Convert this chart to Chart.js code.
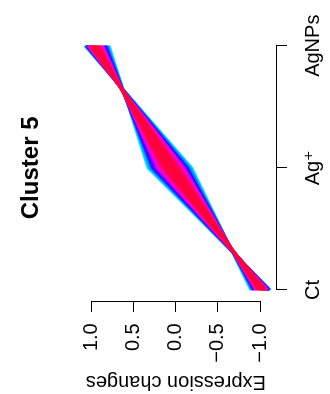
<!DOCTYPE html>
<html>
<head>
<meta charset="utf-8">
<script src="https://cdn.jsdelivr.net/npm/chart.js@4.4.1/dist/chart.umd.min.js"></script>
<style>
  html, body { margin: 0; padding: 0; background: #fff; overflow: hidden; }
  /* chart is drawn upright, then turned a quarter turn to the left */
  #wrap {
    position: absolute; left: 0; top: 0;
    width: 394px; height: 330px;
    transform-origin: 0 0;
    transform: translate(0, 394px) rotate(-90deg);
    background: #fff;
  }
</style>
</head>
<body>
<div id="wrap"><canvas id="cluster-chart" width="394" height="330"></canvas></div>
<script>
// time points
const categories = ['Ct', 'Ag\u207A', 'AgNPs'];

// standardised profile of each gene in the cluster (one entry per gene)
const ctValues   = [-1.123, -1.118, -1.113, -1.107, -1.101, -1.095, -1.088, -1.081, -1.074, -1.067, -1.059, -1.050, -1.042, -1.033,
                    -1.024, -1.015, -1.005, -0.995, -0.985, -0.974, -0.963, -0.952, -0.940, -0.929, -0.917, -0.904, -0.891];
const agValues   = [0.33, 0.31, 0.29, 0.27, 0.25, 0.23, 0.21, 0.19, 0.17, 0.15, 0.13, 0.11, 0.09, 0.07,
                    0.05, 0.03, 0.01, -0.01, -0.03, -0.05, -0.07, -0.09, -0.11, -0.13, -0.15, -0.17, -0.19];
const agnpValues = [0.793, 0.808, 0.823, 0.837, 0.851, 0.865, 0.878, 0.891, 0.904, 0.917, 0.929, 0.940, 0.952, 0.963,
                    0.974, 0.985, 0.995, 1.005, 1.015, 1.024, 1.033, 1.042, 1.050, 1.059, 1.067, 1.074, 1.081];
// cluster membership of each gene
const membership = [0.42, 0.46, 0.51, 0.56, 0.61, 0.66, 0.71, 0.76, 0.81, 0.87, 0.91, 0.94, 0.96, 0.97,
                    0.97, 0.96, 0.94, 0.91, 0.87, 0.82, 0.76, 0.70, 0.64, 0.57, 0.51, 0.46, 0.42];

const yTickStep = 0.5;

const FONT = "'Liberation Sans', Arial, 'DejaVu Sans', sans-serif";

// cyan -> blue -> magenta -> red, by membership
const rampStops = [
    [0.40, [0, 255, 255]],
    [0.50, [0, 120, 255]],
    [0.58, [30, 0, 255]],
    [0.66, [170, 0, 255]],
    [0.74, [255, 0, 230]],
    [0.82, [255, 0, 140]],
    [0.90, [255, 0, 70]],
    [1.00, [255, 0, 55]]
];

function memberColor(m) {
    if (m <= rampStops[0][0]) return 'rgb(0,255,255)';
    for (let i = 1; i < rampStops.length; i++) {
        const [m1, c1] = rampStops[i];
        const [m0, c0] = rampStops[i - 1];
        if (m <= m1) {
            const f = (m - m0) / (m1 - m0);
            const c = c0.map((v, k) => Math.round(v + (c1[k] - v) * f));
            return `rgb(${c[0]},${c[1]},${c[2]})`;
        }
    }
    return 'rgb(255,0,55)';
}

// highest membership first so it is painted on top
const order = membership.map((m, i) => i).sort((a, b) => membership[b] - membership[a]);
const datasets = order.map(i => ({
    label: 'gene ' + (i + 1),
    data: [ctValues[i], agValues[i], agnpValues[i]],
    borderColor: memberColor(membership[i]),
    borderWidth: 3,
    pointRadius: 0,
    tension: 0,
    fill: false,
    clip: false
}));

const ctx = document.getElementById('cluster-chart').getContext('2d');
new Chart(ctx, {
    type: 'line',
    data: { labels: categories, datasets: datasets },
    options: {
        responsive: false,
        animation: false,
        devicePixelRatio: 1,
        layout: { padding: { left: 0, right: 41.7, top: 0, bottom: 70 } },
        plugins: {
            legend: { display: false },
            tooltip: { enabled: false },
            title: {
                display: true,
                text: 'Cluster 5',
                fullSize: false,
                color: '#000',
                font: { family: FONT, size: 24, weight: 'bold' },
                padding: { top: 16.6, bottom: 46.3 }
            }
        },
        scales: {
            x: {
                type: 'category',
                position: { y: -1.2 },
                grid: { drawOnChartArea: false, drawTicks: true, tickLength: 10, color: '#000', lineWidth: 1 },
                border: { display: true, color: '#000', width: 1 },
                ticks: { color: '#000', font: { family: FONT, size: 20 }, padding: 14.6, maxRotation: 0, autoSkip: false }
            },
            // labels and title of the value axis
            y: {
                type: 'linear',
                position: 'left',
                min: -1,
                max: 1,
                grid: { display: false, drawTicks: false },
                border: { display: false },
                ticks: {
                    stepSize: yTickStep,
                    padding: 33.3,
                    color: '#000',
                    font: { family: FONT, size: 20 },
                    callback: v => v.toFixed(1).replace('-', '\u2212')
                },
                title: {
                    display: true,
                    text: 'Expression changes',
                    color: '#000',
                    font: { family: FONT, size: 20 },
                    padding: { top: 0.6, bottom: 0 }
                },
                afterFit: s => { s.width = 104; }
            },
            // detached axis line with tick marks
            yLine: {
                type: 'linear',
                axis: 'y',
                position: { x: -0.094 },
                min: -1,
                max: 1,
                ticks: { display: false, stepSize: yTickStep },
                grid: { drawOnChartArea: false, drawTicks: true, tickLength: 10, color: '#000', lineWidth: 1 },
                border: { display: true, color: '#000', width: 1 }
            }
        }
    }
});
</script>
</body>
</html>
